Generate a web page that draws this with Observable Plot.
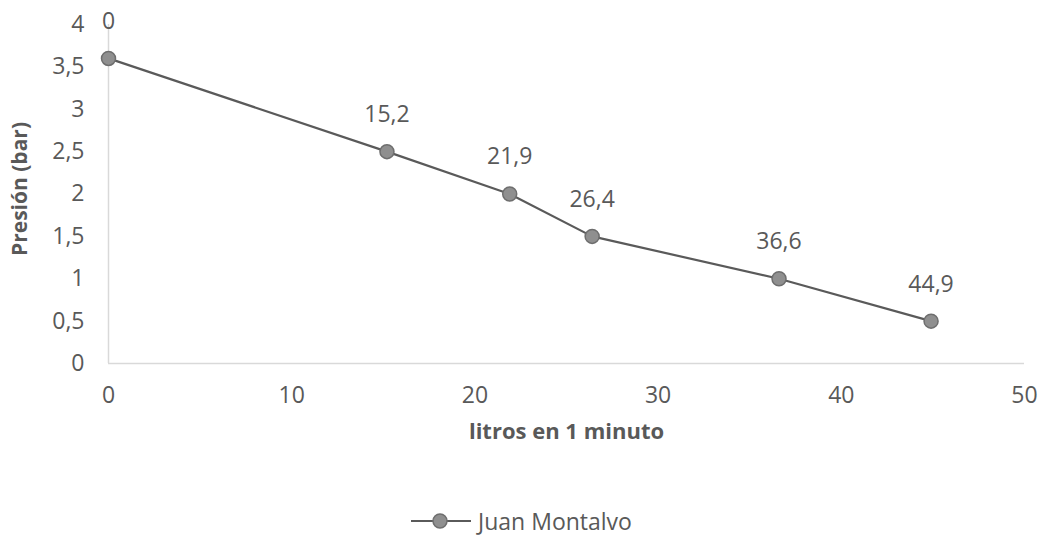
<!DOCTYPE html>
<html>
<head>
<meta charset="utf-8">
<script src="https://cdn.jsdelivr.net/npm/d3@7"></script>
<script src="https://cdn.jsdelivr.net/npm/@observablehq/plot@0.6"></script>
<style>
  html, body { margin: 0; padding: 0; background: #fff; }
  #chart { position: relative; width: 1042px; height: 535px; font-family: "Open Sans", sans-serif; }
  #legend { position: absolute; left: 0; width: 1042px; top: 505px; display: flex; justify-content: center; align-items: center; color: #595959; font-size: 23px; line-height: 32px; font-family: "Open Sans", sans-serif; }
</style>
</head>
<body>
<div id="chart"></div>
<script>
const litros = [0, 15.2, 21.9, 26.4, 36.6, 44.9];
const presion = [3.6, 2.5, 2.0, 1.5, 1.0, 0.5];
const seriesName = "Juan Montalvo";
const xTicks = [0, 10, 20, 30, 40, 50];
const yTicks = [0, 0.5, 1, 1.5, 2, 2.5, 3, 3.5, 4];

const data = litros.map((x, i) => ({x, y: presion[i]}));
const fmt = d => String(d).replace(".", ",");

const plot = Plot.plot({
  width: 1042,
  height: 470,
  marginLeft: 108,
  marginRight: 18,
  marginTop: 24,
  marginBottom: 107,
  style: { fontFamily: "Open Sans, sans-serif", fontSize: "23px", color: "#595959", background: "white" },
  x: { domain: [0, 50] },
  y: { domain: [0, 4] },
  marks: [
    Plot.ruleY([0], { stroke: "#d9d9d9", strokeWidth: 1.5 }),
    Plot.ruleX([0], { stroke: "#d9d9d9", strokeWidth: 1.5 }),
    Plot.axisX({ ticks: xTicks, tickFormat: fmt, tickSize: 0, tickPadding: 23, fontSize: 23, fill: "#595959", label: null }),
    Plot.axisY({ ticks: yTicks, tickFormat: fmt, tickSize: 0, tickPadding: 24, fontSize: 23, fill: "#595959", label: null }),
    Plot.line(data, { x: "x", y: "y", stroke: "#5a5a5a", strokeWidth: 2.2 }),
    Plot.dot(data, { x: "x", y: "y", r: 7, fill: "#8f8f8f", stroke: "#6e6e6e", strokeWidth: 1.5 }),
    Plot.text(data, { x: "x", y: "y", text: d => fmt(d.x), dy: -37, fontSize: 23, fill: "#595959" }),
    Plot.text(["litros en 1 minuto"], { frameAnchor: "bottom", dy: 75, fontSize: 22, fontWeight: "bold", fill: "#595959" }),
    Plot.text(["Presión (bar)"], { frameAnchor: "left", textAnchor: "middle", dx: -88, dy: -5, rotate: -90, fontSize: 21, fontWeight: "bold", fill: "#595959" })
  ]
});
document.getElementById("chart").appendChild(plot);

const legend = document.createElement("div");
legend.id = "legend";
legend.innerHTML = `<svg width="62" height="24"><line x1="1" y1="12" x2="61" y2="12" stroke="#5a5a5a" stroke-width="2.2"/><circle cx="30" cy="12" r="7" fill="#8f8f8f" stroke="#6e6e6e" stroke-width="1.5"/></svg><span style="margin-left:6px">${seriesName}</span>`;
document.getElementById("chart").appendChild(legend);
</script>
</body>
</html>
